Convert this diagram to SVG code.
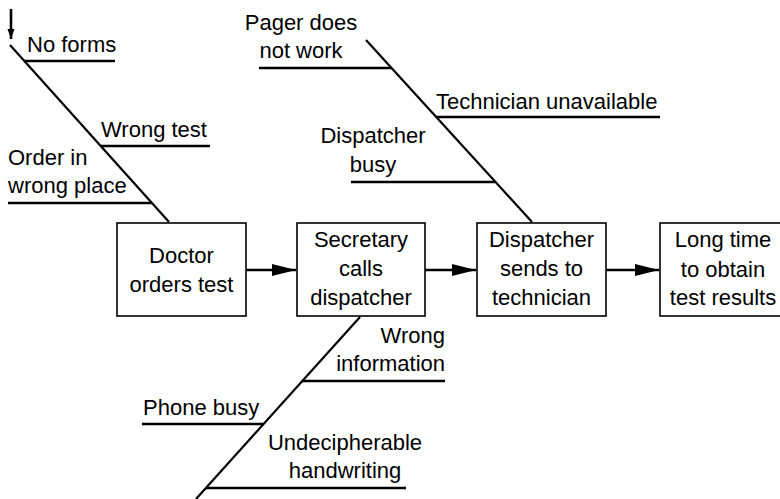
<svg xmlns="http://www.w3.org/2000/svg" width="780" height="499" viewBox="0 0 780 499">
<style>
text{font-family:"Liberation Sans",Arial,sans-serif;font-size:22px;fill:#000}
.c{text-anchor:middle}
.r{text-anchor:end}
.box{fill:#fff;stroke:#000;stroke-width:1.6}
.bone{stroke:#000;stroke-width:2.2;fill:none}
.twig{stroke:#000;stroke-width:2.6;fill:none}
.flow{stroke:#000;stroke-width:2.6;fill:none}
</style>
<defs>
<marker id="ah" markerUnits="userSpaceOnUse" markerWidth="24" markerHeight="14" refX="24" refY="7" orient="auto">
<path d="M0,1 L24,7 L0,13 Z" fill="#000"/>
</marker>
<marker id="ahs" markerUnits="userSpaceOnUse" markerWidth="8" markerHeight="10" refX="10" refY="4" orient="auto">
<path d="M0,0.5 L10,4 L0,7.5 Z" fill="#000"/>
</marker>
</defs>
<g id="connectors">
<line class="flow" x1="11" y1="9" x2="11" y2="39" stroke-width="1.6" marker-end="url(#ahs)"/>
<line class="bone" x1="10" y1="45" x2="169" y2="222"/>
<line class="bone" x1="366" y1="40" x2="532" y2="222"/>
<line class="bone" x1="360" y1="317" x2="196" y2="499"/>
<line class="twig" x1="24" y1="61" x2="115" y2="61"/>
<line class="twig" x1="101" y1="146" x2="210" y2="146"/>
<line class="twig" x1="8" y1="203" x2="152" y2="203"/>
<line class="twig" x1="259" y1="68" x2="391" y2="68"/>
<line class="twig" x1="436" y1="117" x2="660" y2="117"/>
<line class="twig" x1="351" y1="182" x2="495" y2="182"/>
<line class="twig" x1="302" y1="381" x2="445" y2="381"/>
<line class="twig" x1="142" y1="424" x2="264" y2="424"/>
<line class="twig" x1="206" y1="488" x2="406" y2="488"/>
<line class="flow" x1="246" y1="270" x2="296" y2="270" marker-end="url(#ah)"/>
<line class="flow" x1="425" y1="270" x2="476" y2="270" marker-end="url(#ah)"/>
<line class="flow" x1="606" y1="270" x2="659" y2="270" marker-end="url(#ah)"/>
</g>
<g id="causes">
<text x="27" y="52">No forms</text>
<text x="101" y="137">Wrong test</text>
<text x="8" y="165">Order in</text>
<text x="8" y="193">wrong place</text>
<text class="c" x="301" y="30">Pager does</text>
<text class="c" x="301" y="58">not work</text>
<text x="436" y="109">Technician unavailable</text>
<text class="c" x="373" y="143">Dispatcher</text>
<text class="c" x="373" y="172">busy</text>
<text class="r" x="445" y="343">Wrong</text>
<text class="r" x="445" y="371">information</text>
<text x="143" y="415">Phone busy</text>
<text class="c" x="345" y="450">Undecipherable</text>
<text class="c" x="345" y="478">handwriting</text>
</g>
<g id="n1">
<rect class="box" x="117" y="223" width="129" height="93"/>
<text class="c" x="181.5" y="263">Doctor</text>
<text class="c" x="181.5" y="292">orders test</text>
</g>
<g id="n2">
<rect class="box" x="297" y="223" width="128" height="93"/>
<text class="c" x="361" y="247">Secretary</text>
<text class="c" x="361" y="276">calls</text>
<text class="c" x="361" y="305">dispatcher</text>
</g>
<g id="n3">
<rect class="box" x="477" y="223" width="129" height="93"/>
<text class="c" x="541.5" y="247">Dispatcher</text>
<text class="c" x="541.5" y="276">sends to</text>
<text class="c" x="541.5" y="305">technician</text>
</g>
<g id="n4">
<rect class="box" x="660" y="223" width="129" height="93"/>
<text class="c" x="723" y="247">Long time</text>
<text class="c" x="723" y="277">to obtain</text>
<text class="c" x="723" y="305">test results</text>
</g>
</svg>
